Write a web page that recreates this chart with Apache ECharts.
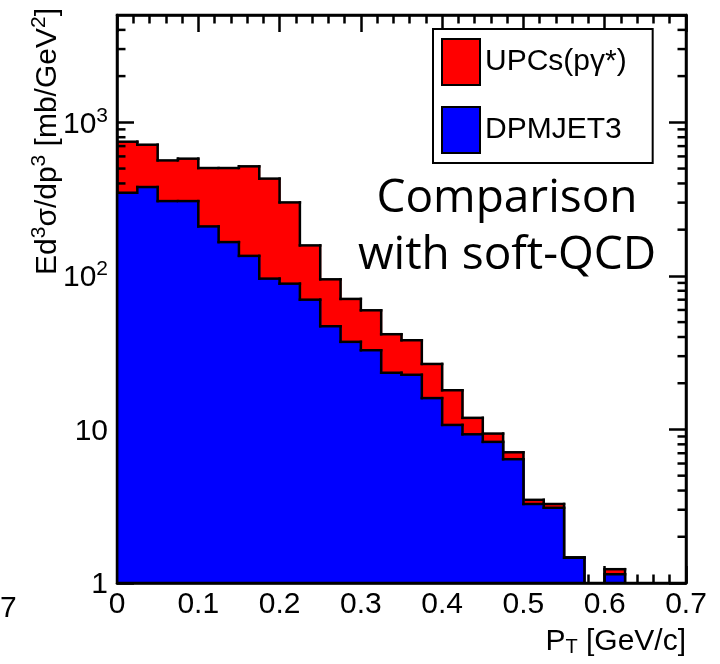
<!DOCTYPE html>
<html><head><meta charset="utf-8">
<script src="https://cdn.jsdelivr.net/npm/echarts@6/dist/echarts.min.js"></script>
<style>html,body{margin:0;padding:0;background:#fff}#c{width:720px;height:664px}</style>
</head><body><div id="c"></div>
<script>
// ---- data ----
const ptLow = [0, 0.025, 0.05, 0.075, 0.1, 0.125, 0.15, 0.175, 0.2, 0.225, 0.25, 0.275, 0.3,
               0.325, 0.35, 0.375, 0.4, 0.425, 0.45, 0.475, 0.5, 0.525, 0.55, 0.575, 0.6];
const binWidth = 0.025;
const dpmjet = [348, 379, 307, 307, 210, 166, 135, 96, 89, 70, 47, 37.2, 32.8,
                23.4, 22.7, 16.0, 10.7, 9.3, 8.3, 6.4, 3.27, 3.09, 1.46, 0, 1.14];
const upcs   = [400, 336, 258, 273, 294, 338, 382, 334, 212, 88, 48, 33.6, 26.9,
                18.3, 15.4, 10.7, 7.3, 2.6, 1.1, 0.7, 0.21, 0.18, 0.01, 0, 0.09];
const xTickLabels = ['0', '0.1', '0.2', '0.3', '0.4', '0.5', '0.6', '0.7'];
const yTickLabels = {1: '{b|1}', 10: '{b|10}', 100: '{b|10}{s|2}', 1000: '{b|10}{s|3}'};
const yMinorTicks = [2,3,4,5,6,7,8,9,20,30,40,50,60,70,80,90,200,300,400,500,600,700,800,900,2000,3000,4000];
const seriesNames = ['UPCs(pγ*)', 'DPMJET3'];
const seriesColors = ['#ff0000', '#0000ff'];

const yMin = 1, yMax = 5000;
const FONT = '"Liberation Sans", Arial, Helvetica, sans-serif';
const totals = dpmjet.map((d, i) => d + upcs[i]);

function histData(vals) {
  return vals.map((v, i) => [ptLow[i], ptLow[i] + binWidth, v, i > 0 ? vals[i - 1] : 0]);
}
function histRenderer(fill, n) {
  return function (params, api) {
    const i = params.dataIndex;
    const lo = api.value(0), hi = api.value(1);
    const v = Math.max(api.value(2), yMin);
    const prev = Math.max(api.value(3), yMin);
    const pTL = api.coord([lo, v]);
    const pTR = api.coord([hi, v]);
    const pBase = api.coord([lo, yMin]);
    const pPrev = api.coord([lo, prev]);
    const ls = {stroke: '#000', lineWidth: 2.5, lineCap: 'square'};
    const ch = [];
    if (v > yMin) {
      ch.push({type: 'rect', shape: {x: pTL[0], y: pTL[1], width: pTR[0] - pTL[0] + (i < n - 1 ? 1 : 0), height: pBase[1] - pTL[1]}, style: {fill: fill}});
      ch.push({type: 'line', shape: {x1: pTL[0], y1: pTL[1], x2: pTR[0], y2: pTR[1]}, style: ls});
    }
    if (prev !== v) {
      ch.push({type: 'line', shape: {x1: pTL[0], y1: pPrev[1], x2: pTL[0], y2: pTL[1]}, style: ls});
    }
    if (i === n - 1 && v > yMin) {
      ch.push({type: 'line', shape: {x1: pTR[0], y1: pTR[1], x2: pTR[0], y2: pBase[1]}, style: ls});
    }
    return {type: 'group', children: ch};
  };
}

const tickStyle = {color: '#000', width: 2.5};
function xAxisDef(pos, labels) {
  return {
    type: 'value', position: pos, min: 0, max: 0.7, interval: 0.1, z: 2,
    axisLine: {show: true, onZero: false, lineStyle: tickStyle},
    axisTick: {show: true, inside: true, length: 17, lineStyle: tickStyle},
    minorTick: {show: true, splitNumber: 5, length: 8.5, lineStyle: tickStyle},
    splitLine: {show: false},
    axisLabel: {show: labels, fontFamily: FONT, fontSize: 30, color: '#000', margin: 7,
      formatter: v => xTickLabels[Math.round(v * 10)]}
  };
}
function yAxisDef(pos, labels) {
  return {
    type: 'log', logBase: 10, position: pos, min: yMin, max: yMax, z: 2,
    axisLine: {show: true, onZero: false, lineStyle: tickStyle},
    axisTick: {show: true, inside: true, length: 17, lineStyle: tickStyle},
    splitLine: {show: false},
    axisLabel: {show: labels, showMaxLabel: false, margin: 9,
      formatter: v => yTickLabels[Math.round(v)] || '',
      rich: {
        b: {fontFamily: FONT, fontSize: 30, color: '#000', lineHeight: 34, verticalAlign: 'bottom'},
        s: {fontFamily: FONT, fontSize: 21, color: '#000', lineHeight: 21, verticalAlign: 'top'}
      }}
  };
}

const chart = echarts.init(document.getElementById('c'), null, {renderer: 'canvas'});
chart.setOption({
  animation: false,
  backgroundColor: '#fff',
  grid: {left: 117, top: 15, width: 569, height: 568, show: true, borderColor: '#000', borderWidth: 2.5, z: 10},
  xAxis: [xAxisDef('bottom', true), xAxisDef('top', false)],
  yAxis: [yAxisDef('left', true), yAxisDef('right', false)],
  legend: {
    left: 433, top: 29, orient: 'vertical', selectedMode: false,
    data: seriesNames.map((nm, k) => ({name: nm, icon: 'rect',
      itemStyle: {color: seriesColors[k], borderColor: '#000', borderWidth: 2}})),
    itemWidth: 38, itemHeight: 46, itemGap: 20,
    padding: [9, 26, 9, 8],
    borderColor: '#000', borderWidth: 2, backgroundColor: '#fff',
    textStyle: {fontFamily: FONT, fontSize: 30, color: '#000'}
  },
  series: [
    {type: 'custom', name: seriesNames[0], z: 1, clip: true, silent: true,
     itemStyle: {color: seriesColors[0]},
     encode: {x: [0, 1], y: 2},
     data: histData(totals), renderItem: histRenderer(seriesColors[0], totals.length)},
    {type: 'custom', name: 'minorTicks', z: 2, silent: true,
     encode: {x: 0, y: 1},
     data: yMinorTicks.map(v => [0.35, v]),
     renderItem: function (params, api) {
       const cs = params.coordSys;
       const y = api.coord([0.35, api.value(1)])[1];
       const st = {stroke: '#000', lineWidth: 2.5};
       return {type: 'group', children: [
         {type: 'line', shape: {x1: cs.x, y1: y, x2: cs.x + 8.5, y2: y}, style: st},
         {type: 'line', shape: {x1: cs.x + cs.width - 8.5, y1: y, x2: cs.x + cs.width, y2: y}, style: st}
       ]};
     }},
    {type: 'custom', name: seriesNames[1], z: 3, clip: true, silent: true,
     itemStyle: {color: seriesColors[1]},
     encode: {x: [0, 1], y: 2},
     data: histData(dpmjet), renderItem: histRenderer(seriesColors[1], dpmjet.length)}
  ],
  graphic: [
    {type: 'text', x: 46, y: 8, rotation: Math.PI / 2, z: 20,
     style: {text: '{b|Ed}{s|3}{b|σ/dp}{s|3}{b| [mb/GeV}{s|2}{b|]}', align: 'right', verticalAlign: 'middle',
       rich: {
         b: {fontFamily: FONT, fontSize: 30, fill: '#000', lineHeight: 34, verticalAlign: 'bottom'},
         s: {fontFamily: FONT, fontSize: 21, fill: '#000', lineHeight: 21, verticalAlign: 'top'}
       }}},
    {type: 'text', x: 686, y: 642, z: 20,
     style: {text: '{b|P}{u|T}{b| [GeV/c]}', align: 'right', verticalAlign: 'middle',
       rich: {
         b: {fontFamily: FONT, fontSize: 30, fill: '#000', lineHeight: 30, verticalAlign: 'top'},
         u: {fontFamily: FONT, fontSize: 20, fill: '#000', lineHeight: 20, verticalAlign: 'bottom'}
       }}},
    {type: 'text', x: 507, y: 199, z: 20,
     style: {text: 'Comparison', align: 'center', verticalAlign: 'middle', fill: '#000',
       font: '46px "Open Sans", sans-serif'}},
    {type: 'text', x: 507, y: 256, z: 20,
     style: {text: 'with soft-QCD', align: 'center', verticalAlign: 'middle', fill: '#000',
       font: '46px "Open Sans", sans-serif'}},
    {type: 'text', x: 0, y: 609, z: 20,
     style: {text: '7', align: 'left', verticalAlign: 'middle', fill: '#000',
       font: '30px "Liberation Sans", Arial, sans-serif'}}
  ]
});
</script>
</body></html>
